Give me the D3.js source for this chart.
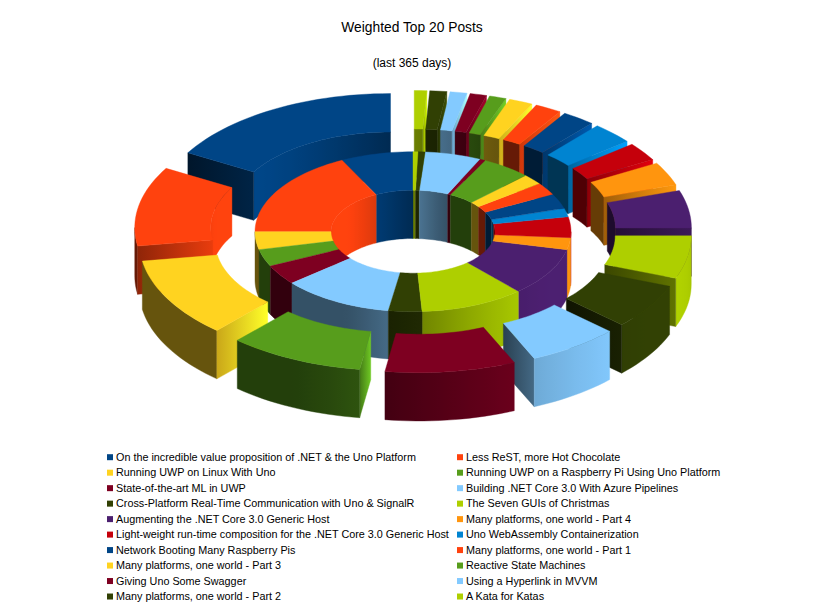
<!DOCTYPE html>
<meta charset="utf-8">
<style>

body {
  margin: 0;
  background: #fff;
}

text {
  font-family: "Liberation Sans", Arial, sans-serif;
  fill: #000;
}

</style>
<body>
<svg id="chart" width="825" height="606"></svg>
<script src="https://cdn.jsdelivr.net/npm/d3@7"></script>
<script>

var categories = [
  "On the incredible value proposition of .NET & the Uno Platform",
  "Less ReST, more Hot Chocolate",
  "Running UWP on Linux With Uno",
  "Running UWP on a Raspberry Pi Using Uno Platform",
  "State-of-the-art ML in UWP",
  "Building .NET Core 3.0 With Azure Pipelines",
  "Cross-Platform Real-Time Communication with Uno & SignalR",
  "The Seven GUIs of Christmas",
  "Augmenting the .NET Core 3.0 Generic Host",
  "Many platforms, one world - Part 4",
  "Light-weight run-time composition for the .NET Core 3.0 Generic Host",
  "Uno WebAssembly Containerization",
  "Network Booting Many Raspberry Pis",
  "Many platforms, one world - Part 1",
  "Many platforms, one world - Part 3",
  "Reactive State Machines",
  "Giving Uno Some Swagger",
  "Using a Hyperlink in MVVM",
  "Many platforms, one world - Part 2",
  "A Kata for Katas"
];

var palette = ["#004586", "#ff420e", "#ffd320", "#579d1c", "#7e0021", "#83caff",
               "#314004", "#aecf00", "#4b1f6f", "#ff950e", "#c5000b", "#0084d1"];

// inner ring (first series) and outer ring (second series)
var innerValues = [26.7, 63.3, 13, 12.5, 14.5, 41, 12.3, 38.5, 35.2, 8.7,
                   15.1, 6.2, 11, 9, 7.6, 18.3, 2.1, 20.6, 2.6, 1.8];
var outerValues = [60, 39, 39, 33.6, 32.4, 22.8, 22.2, 21, 18.5, 11.5,
                   9, 10.5, 8.2, 6.6, 5.9, 4.2, 4.1, 4.2, 4.2, 3.1];

var title = "Weighted Top 20 Posts",
    subtitle = "(last 365 days)";

var width = 825,
    height = 606;

var cx = 413, cy = 280,
    sinT = 0.506, cosT = Math.sqrt(1 - sinT * sinT),
    h = 56,
    step = 2 * Math.PI / 180;

var color = d3.scaleOrdinal().domain(d3.range(categories.length)).range(palette);

var svg = d3.select("#chart"),
    defs = svg.append("defs");

function project(p) {
  return [cx + p[0], cy - (p[1] * sinT + p[2] * cosT)];
}

function depth(pts) {
  return d3.mean(pts, function(p) { return p[1] * cosT - p[2] * sinT; });
}

// light comes from the right and a bit from the front
var lx = 0.9, ly = -0.44, ll = Math.sqrt(lx * lx + ly * ly);
function lit(nx, ny) {
  var d = Math.max(0, (nx * lx + ny * ly) / ll);
  return 0.4 + 0.62 * Math.pow(d, 1.3);
}

function shade(c, k) {
  var col = d3.rgb(c);
  return d3.rgb(Math.min(255, col.r * k), Math.min(255, col.g * k), Math.min(255, col.b * k)).formatHex();
}

var sides = [], tops = [];

function addRing(values, rIn, rOut, off) {
  var arcs = d3.pie().sort(null).value(function(d) { return d; })(values);
  arcs.forEach(function(d, i) {
    var a0 = d.startAngle, a1 = d.endAngle, mid = (a0 + a1) / 2,
        ox = -off * Math.sin(mid), oy = off * Math.cos(mid);
    function pt(r, a, z) { return [ox - r * Math.sin(a), oy + r * Math.cos(a), z]; }

    // a cylinder wall between angles c0 and c1, shaded with a gradient along x
    function wall(r, c0, c1, sign) {
      var n = Math.max(2, Math.ceil((c1 - c0) / step)),
          up = [], down = [], stops = [];
      for (var k = 0; k <= n; k++) {
        var a = c0 + (c1 - c0) * k / n;
        up.push(pt(r, a, h));
        down.unshift(pt(r, a, 0));
        stops.push({x: cx + ox - r * Math.sin(a), k: lit(-sign * Math.sin(a), sign * Math.cos(a))});
      }
      sides.push({cat: i, pts: up.concat(down), stops: stops});
    }

    // flat end of an exploded slice, darker on its left
    function end(a, nx, ny) {
      var pts = [pt(rIn, a, h), pt(rOut, a, h), pt(rOut, a, 0), pt(rIn, a, 0)],
          xs = pts.map(function(p) { return cx + p[0]; }),
          k = lit(nx, ny);
      sides.push({cat: i, pts: pts,
        stops: [{x: d3.min(xs), k: k * 0.8}, {x: d3.max(xs), k: k * 1.3}]});
    }

    var n = Math.max(1, Math.ceil((a1 - a0) / step)),
        outer = [], inner = [];
    for (var k = 0; k <= n; k++) {
      var a = a0 + (a1 - a0) * k / n;
      outer.push(pt(rOut, a, h));
      inner.unshift(pt(rIn, a, h));
    }
    tops.push({cat: i, pts: outer.concat(inner)});

    // outer wall faces the viewer on the front half, inner wall on the back half
    [[Math.PI / 2, 3 * Math.PI / 2, rOut, 1], [0, Math.PI / 2, rIn, -1], [3 * Math.PI / 2, 2 * Math.PI, rIn, -1]]
      .forEach(function(w) {
        var lo = Math.max(a0, w[0]), hi = Math.min(a1, w[1]);
        if (hi - lo > 1e-6) wall(w[2], lo, hi, w[3]);
      });

    if (off > 0) {
      if (Math.sin(a0) < 0) end(a0, Math.cos(a0), Math.sin(a0));
      if (Math.sin(a1) > 0) end(a1, -Math.cos(a1), -Math.sin(a1));
    }
  });
}

addRing(innerValues, 82, 158, 0);
addRing(outerValues, 158, 234, 45);

// side faces back to front, then the top faces, which nothing can hide
sides.forEach(function(f) { f.z = depth(f.pts); });
sides.sort(function(a, b) { return b.z - a.z; });

sides.forEach(function(f, j) {
  var x1 = f.stops[0].x, x2 = f.stops[f.stops.length - 1].x;
  if (Math.abs(x2 - x1) < 0.5) { f.fill = shade(color(f.cat), f.stops[0].k); return; }
  var g = defs.append("linearGradient")
      .attr("id", "wall" + j)
      .attr("gradientUnits", "userSpaceOnUse")
      .attr("x1", x1).attr("x2", x2).attr("y1", 0).attr("y2", 0);
  g.selectAll("stop")
      .data(f.stops)
    .enter().append("stop")
      .attr("offset", function(s) { return (s.x - x1) / (x2 - x1); })
      .attr("stop-color", function(s) { return shade(color(f.cat), s.k); });
  f.fill = "url(#wall" + j + ")";
});

var line = d3.line();

svg.append("g").selectAll("path")
    .data(sides)
  .enter().append("path")
    .attr("d", function(f) { return line(f.pts.map(project)) + "Z"; })
    .attr("fill", function(f) { return f.fill; })
    .attr("stroke", function(f) { return f.fill; })
    .attr("stroke-width", 0.4)
    .attr("stroke-linejoin", "round");

svg.append("g").selectAll("path")
    .data(tops)
  .enter().append("path")
    .attr("d", function(f) { return line(f.pts.map(project)) + "Z"; })
    .attr("fill", function(f) { return color(f.cat); })
    .attr("stroke", function(f) { return color(f.cat); })
    .attr("stroke-width", 0.4)
    .attr("stroke-linejoin", "round");

svg.append("text")
    .attr("x", 412)
    .attr("y", 32)
    .attr("text-anchor", "middle")
    .style("font-size", "13.8px")
    .text(title);

svg.append("text")
    .attr("x", 412)
    .attr("y", 67)
    .attr("text-anchor", "middle")
    .style("font-size", "12px")
    .text(subtitle);

var legend = svg.append("g").selectAll("g")
    .data(categories)
  .enter().append("g")
    .attr("transform", function(d, i) {
      return "translate(" + (i % 2 ? 457 : 107) + "," + (460.7 + Math.floor(i / 2) * 15.48) + ")";
    });

legend.append("rect")
    .attr("y", -6.5)
    .attr("width", 6)
    .attr("height", 6)
    .attr("fill", function(d, i) { return color(i); });

legend.append("text")
    .attr("x", 9)
    .style("font-size", "10.8px")
    .text(function(d) { return d; });

</script>
